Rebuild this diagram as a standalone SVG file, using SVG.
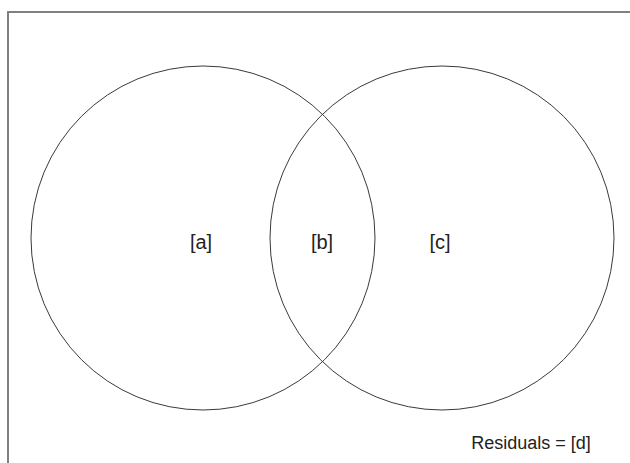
<svg xmlns="http://www.w3.org/2000/svg" width="630" height="463" viewBox="0 0 630 463">
<style>
.frame{fill:#fff;stroke:#808080;stroke-width:2}
.set{fill:none;stroke:#3a3a3a;stroke-width:1}
.lbl{font-family:"Liberation Sans",Arial,sans-serif;font-size:18px;fill:#222;text-anchor:middle}
.big{font-size:20px}
</style>
<rect x="0" y="0" width="630" height="463" fill="#fff"/>
<rect class="frame" x="8" y="12" width="640" height="470"/>
<g id="set-left"><circle class="set" cx="203" cy="238" r="172"/></g>
<g id="set-right"><circle class="set" cx="442" cy="238" r="172"/></g>
<g id="label-a"><text class="lbl big" x="201" y="249">[a]</text></g>
<g id="label-b"><text class="lbl big" x="322" y="249">[b]</text></g>
<g id="label-c"><text class="lbl big" x="440" y="249">[c]</text></g>
<g id="residuals"><text class="lbl" x="531" y="449">Residuals = [d]</text></g>
<g id="connectors"></g>
</svg>
